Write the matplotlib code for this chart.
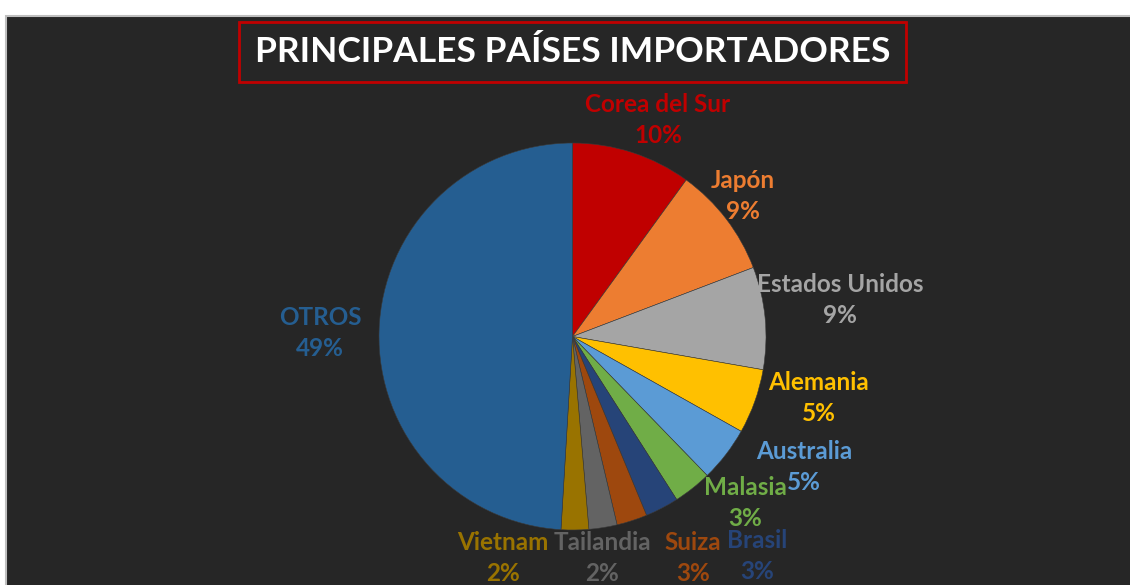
import matplotlib
matplotlib.use("Agg")
import matplotlib.pyplot as plt
from matplotlib.patches import Rectangle

plt.rcParams['font.family'] = ['Lato', 'DejaVu Sans']

# Data (share of imports, %)
paises = ['Corea del Sur', 'Japón', 'Estados Unidos', 'Alemania', 'Australia',
          'Malasia', 'Brasil', 'Suiza', 'Tailandia', 'Vietnam', 'OTROS']
valores = [10.0, 9.2, 8.55, 5.4, 4.6, 3.2, 2.8, 2.55, 2.35, 2.3, 49.05]
colores = ['#C00000', '#ED7D31', '#A5A5A5', '#FFC000', '#5B9BD5', '#70AD47',
           '#264478', '#9E480E', '#636363', '#997300', '#255E91']

# label block centres in pixels (x from left, y from top), Excel-like placement
label_pos = [(658, 120), (743, 196), (840, 300), (819, 398), (804, 467),
             (745, 503), (757, 556), (693, 558), (602, 558), (503, 558), (320, 333)]

W, H = 1130, 585
fig = plt.figure(figsize=(W / 100, H / 100), dpi=100, facecolor='white')
ax = fig.add_axes([0, 0, 1, 1])

# dark chart area
ax.add_patch(Rectangle((6, -5), W, H - 11, facecolor='#262626',
                       edgecolor='#BFBFBF', linewidth=1.5, zorder=0))

cx, cy, r = 572.5, H - 336.5, 193.5
wedges, _ = ax.pie(valores, colors=colores, startangle=90, counterclock=False,
                   center=(cx, cy), radius=r, frame=True,
                   wedgeprops=dict(edgecolor='#3a3a3a', linewidth=0.4))
ax.set_xlim(0, W)
ax.set_ylim(0, H)
ax.set_aspect('equal')
ax.axis('off')

total = sum(valores)
for nombre, v, c, (px, py) in zip(paises, valores, colores, label_pos):
    pct = f"{round(v / total * 100 + 1e-9):.0f}%"
    ax.text(px, H - py, f"{nombre}\n{pct}", color=c, fontsize=17.5, fontweight='bold',
            ha='center', va='center', linespacing=1.42, zorder=5)

# title with red frame
ax.add_patch(Rectangle((239, H - 82), 667, 60, facecolor='none',
                       edgecolor='#C00000', linewidth=2, zorder=4))
ax.text(572.5, H - 52, 'PRINCIPALES PAÍSES IMPORTADORES', color='white',
        fontsize=25.5, fontweight='bold', ha='center', va='center', zorder=5)

fig.savefig('out.png', dpi=100, facecolor=fig.get_facecolor())
